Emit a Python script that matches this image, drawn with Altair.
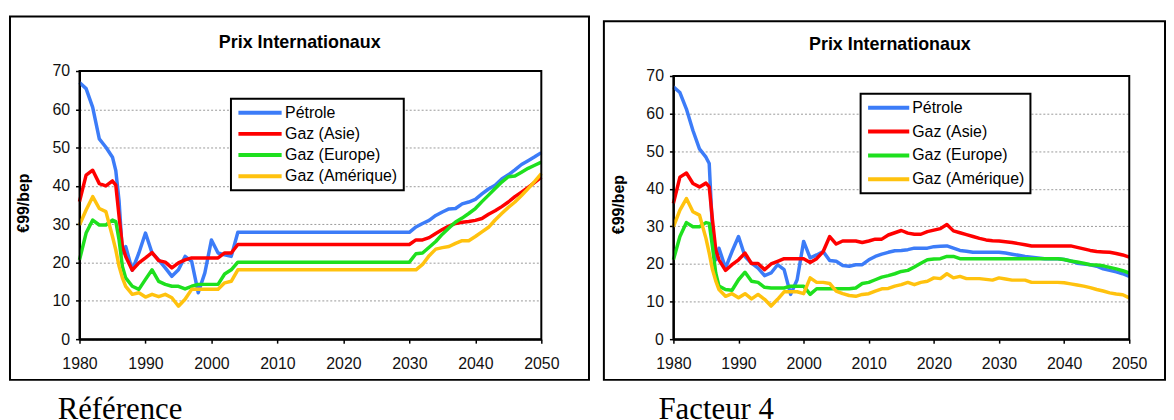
import altair as alt
import pandas as pd

SERIES = ["Pétrole", "Gaz (Asie)", "Gaz (Europe)", "Gaz (Amérique)"]
COLORS = ["#3C7CF8", "#FF0000", "#1EE01E", "#FFC20E"]
TITLE = "Prix Internationaux"
Y_TITLE = "€99/bep"
CAPTIONS = ["Référence", "Facteur 4"]
X_TICKS = [1980, 1990, 2000, 2010, 2020, 2030, 2040, 2050]
Y_TICKS = [0, 10, 20, 30, 40, 50, 60, 70]

# ---- Panel 1 : Référence ----
REF_YEARS = [1980, 1981, 1982, 1983, 1984, 1985, 1985.5, 1986, 1986.5, 1987, 1988, 1989,
             1990, 1991, 1992, 1993, 1994, 1995, 1996, 1997, 1998, 1999, 2000, 2001, 2002,
             2003, 2004,
             2030, 2031, 2032, 2033, 2034, 2035, 2036, 2037, 2038, 2039, 2040, 2041, 2042,
             2043, 2044, 2045, 2046, 2047, 2048, 2049, 2050]
REF_PETROLE = [67.0, 65.4, 60.5, 52.3, 50.1, 47.5, 44.0, 36.0, 22.5, 24.2, 18.0, 22.5, 27.7,
               22.5, 20.7, 18.6, 16.4, 18.1, 21.6, 20.3, 12.1, 17.3, 25.9, 22.5, 22.0, 21.6, 27.9,
               27.9, 29.3, 30.2, 31.0, 32.3, 33.2, 34.0, 34.1, 35.3, 35.8, 36.5, 37.9, 39.2,
               40.2, 41.8, 42.9, 44.2, 45.6, 46.6, 47.6, 48.7]
REF_ASIE = [35.9, 42.8, 44.1, 40.6, 40.0, 41.3, 40.2, 32.0, 24.2, 21.6, 18.0, 19.9, 21.2,
            22.6, 20.5, 20.1, 18.6, 19.9, 20.7, 21.2, 21.2, 21.2, 21.2, 21.2, 22.5, 22.5, 24.7,
            24.7, 25.9, 25.9, 26.5, 27.6, 28.6, 29.5, 30.2, 30.5, 30.7, 31.0, 31.5, 32.6,
            33.5, 34.6, 35.8, 37.2, 38.4, 39.6, 40.9, 42.3]
REF_EUROPE = [20.7, 27.7, 31.1, 29.8, 29.8, 31.1, 30.7, 25.9, 19.0, 16.0, 13.8, 13.0, 15.6,
              18.1, 15.1, 14.3, 13.8, 13.8, 13.1, 13.8, 14.3, 14.3, 14.3, 14.3, 17.0, 18.1, 20.1,
              20.1, 22.3, 22.5, 24.0, 25.5, 27.4, 29.0, 30.6, 31.6, 32.8, 34.1, 35.9, 37.6,
              39.3, 41.0, 42.4, 42.6, 43.6, 44.6, 45.4, 46.2]
REF_AMERIQUE = [29.8, 33.7, 37.2, 34.1, 33.3, 26.8, 23.3, 19.0, 16.0, 13.8, 11.7, 12.1, 11.0,
                11.7, 11.1, 11.7, 10.8, 8.6, 10.4, 13.0, 13.0, 13.0, 13.0, 13.0, 14.7, 15.1, 18.1,
                18.1, 18.1, 19.5, 21.8, 23.5, 23.9, 24.2, 25.0, 25.7, 25.7, 26.8, 28.0, 29.2,
                31.1, 32.8, 34.4, 35.8, 37.5, 39.3, 41.2, 43.2]

# ---- Panel 2 : Facteur 4 ----
F4_YEARS = [1980, 1981, 1982, 1983, 1984, 1985, 1985.5, 1986, 1986.5,
            1987, 1988, 1989, 1990, 1991, 1992, 1993, 1994, 1995, 1996,
            1997, 1998, 1999, 2000, 2001, 2002, 2003, 2004, 2005, 2006,
            2007, 2008, 2009, 2010, 2011, 2012, 2013, 2014, 2015, 2016,
            2017, 2018, 2019, 2020, 2021, 2022, 2023, 2024, 2025, 2026,
            2027, 2028, 2029, 2030, 2031, 2032, 2033, 2034, 2035, 2036,
            2037, 2038, 2039, 2040, 2041, 2042, 2043, 2044, 2045, 2046,
            2047, 2048, 2049, 2050]
F4_PETROLE = [67.1, 65.6, 61.2, 55.5, 50.6, 48.4, 46.7, 29.0, 21.1,
              24.2, 18.9, 23.3, 27.3, 22.0, 20.2, 18.9, 16.9, 17.6, 19.8,
              18.5, 11.9, 15.8, 26.0, 21.6, 22.4, 23.3, 20.9, 20.7, 19.6,
              19.4, 19.8, 19.8, 21.1, 22.0, 22.6, 23.1, 23.5, 23.6, 23.8,
              24.2, 24.2, 24.2, 24.6, 24.7, 24.8, 24.2, 23.6, 23.4, 23.1,
              23.1, 23.1, 23.1, 23.1, 22.9, 22.6, 22.3, 22.0, 21.8, 21.6,
              21.4, 21.4, 21.4, 21.2, 20.8, 20.2, 20.0, 19.8, 19.4, 18.7,
              18.3, 17.9, 17.4, 16.7]
F4_ASIE = [36.1, 43.1, 44.2, 41.4, 40.5, 41.5, 40.5, 31.7, 23.8,
           21.1, 18.3, 19.8, 21.1, 22.9, 20.1, 20.1, 18.5, 20.0, 20.7,
           21.4, 21.4, 21.4, 21.4, 20.4, 21.4, 23.3, 27.3, 25.3, 26.1,
           26.1, 26.1, 25.7, 26.1, 26.6, 26.6, 27.7, 28.3, 28.9, 28.2,
           27.9, 27.9, 28.6, 29.0, 29.4, 30.5, 28.8, 28.3, 27.8, 27.3,
           26.8, 26.4, 26.2, 26.1, 25.9, 25.7, 25.4, 25.1, 24.8, 24.8,
           24.8, 24.8, 24.8, 24.8, 24.8, 24.4, 24.0, 23.6, 23.3, 23.2,
           23.1, 22.8, 22.4, 21.8]
F4_EUROPE = [21.1, 27.3, 31.0, 29.9, 29.9, 31.0, 30.8, 24.6, 17.6,
             14.1, 13.2, 13.0, 15.8, 17.8, 15.4, 15.1, 13.8, 13.6, 13.6,
             13.6, 14.1, 14.1, 14.1, 11.9, 13.4, 13.4, 13.4, 13.4, 13.4,
             13.4, 13.6, 14.8, 15.1, 15.8, 16.5, 16.9, 17.4, 18.0, 18.3,
             19.2, 20.2, 21.1, 21.3, 21.4, 22.0, 22.0, 21.4, 21.4, 21.4,
             21.4, 21.4, 21.4, 21.4, 21.4, 21.4, 21.4, 21.4, 21.4, 21.4,
             21.4, 21.4, 21.4, 21.2, 20.8, 20.5, 20.2, 19.8, 19.7, 19.5,
             19.1, 18.7, 18.2, 17.6]
F4_AMERIQUE = [29.9, 34.3, 37.4, 33.9, 33.0, 26.8, 22.9, 18.5, 15.5,
               13.2, 11.4, 12.1, 11.0, 12.1, 10.7, 11.9, 10.6, 8.8, 10.6,
               12.6, 12.6, 12.6, 12.1, 16.3, 15.1, 15.1, 14.8, 12.8, 12.1,
               11.6, 11.4, 11.9, 12.1, 12.8, 13.4, 13.5, 14.1, 14.5, 15.1,
               14.5, 15.1, 15.4, 16.3, 16.1, 17.4, 16.3, 16.7, 16.1, 16.1,
               16.1, 15.9, 15.7, 16.3, 16.0, 15.7, 15.7, 15.7, 15.1, 15.1,
               15.1, 15.1, 15.1, 15.0, 14.7, 14.4, 14.1, 13.7, 13.2, 12.8,
               12.3, 12.0, 11.8, 11.0]

FONT = "Liberation Sans"
SERIF = "Liberation Serif"


def one_row(text):
    return pd.DataFrame({"t": [text]})


def panel(years, series_vals, w, h, y_top, frame, title_xy, caption, caption_xy,
          legend_xy, legend_pad, legend_rowpad, sym_path, label_offset, ytitle_xy):
    rows = []
    for name, vals in zip(SERIES, series_vals):
        for yr, v in zip(years, vals):
            rows.append({"Année": yr, "Prix": v, "Série": name})
    df = pd.DataFrame(rows)

    xscale = alt.Scale(domain=[1980, 2050], nice=False, zero=False)
    yscale = alt.Scale(domain=[0, 70], nice=False, range=[h, y_top])

    lines = alt.Chart(df).mark_line(strokeWidth=3.5, strokeJoin="round").encode(
        x=alt.X("Année:Q", scale=xscale,
                axis=alt.Axis(values=X_TICKS, format="d", title=None, grid=False,
                              labelPadding=13, labelFlush=False, labelOverlap=False)),
        y=alt.Y("Prix:Q", scale=yscale,
                axis=alt.Axis(values=Y_TICKS, tickCount=8, title=Y_TITLE,
                              titleX=ytitle_xy[0], titleY=ytitle_xy[1], titleAngle=270,
                              titleBaseline="middle", titleAlign="center",
                              grid=True, gridDash=[2, 2], gridColor="#9a9a9a",
                              gridWidth=1, labelPadding=6, labelOverlap=False)),
        color=alt.Color("Série:N",
                        scale=alt.Scale(domain=SERIES, range=COLORS),
                        legend=alt.Legend(title=None, orient="none",
                                          legendX=legend_xy[0], legendY=legend_xy[1],
                                          direction="vertical",
                                          fillColor="white", strokeColor="black",
                                          padding=legend_pad, rowPadding=legend_rowpad,
                                          symbolType=sym_path, symbolSize=144,
                                          symbolStrokeWidth=4, labelOffset=label_offset,
                                          labelFont=FONT, labelFontSize=16,
                                          labelColor="black", labelLimit=400)),
    )

    # plot-area border (decoration around the plot area)
    border = alt.Chart(one_row("plot")).mark_rect(
        fill="transparent", stroke="black", strokeWidth=2
    ).encode(x=alt.value(0), x2=alt.value(w), y=alt.value(y_top), y2=alt.value(h))

    frame_layer = alt.Chart(one_row("frame")).mark_rect(
        fill="transparent", stroke="black", strokeWidth=2
    ).encode(x=alt.value(frame[0]), x2=alt.value(frame[1]),
             y=alt.value(frame[2]), y2=alt.value(frame[3]))

    title_layer = alt.Chart(one_row(TITLE)).mark_text(
        font=FONT, fontSize=18, fontWeight="bold", align="center",
        baseline="alphabetic", color="black"
    ).encode(text="t:N", x=alt.value(title_xy[0]), y=alt.value(title_xy[1]))

    caption_layer = alt.Chart(one_row(caption)).mark_text(
        font=SERIF, fontSize=31, align="left", baseline="alphabetic", color="black"
    ).encode(text="t:N", x=alt.value(caption_xy[0]), y=alt.value(caption_xy[1]))

    return alt.layer(frame_layer, lines, border, title_layer, caption_layer).properties(
        width=w, height=h)


left = panel(REF_YEARS, [REF_PETROLE, REF_ASIE, REF_EUROPE, REF_AMERIQUE],
             465, 270, 0, frame=(-70, 513, -55, 311), title_xy=(221.7, -23.5),
             caption=CAPTIONS[0], caption_xy=(-22, 350),
             legend_xy=(152.5, 28), legend_pad=6, legend_rowpad=5.3,
             sym_path="M-1.08,0H6.17", label_offset=32.5, ytitle_xy=(-56.5, 132.5))

right = panel(F4_YEARS, [F4_PETROLE, F4_ASIE, F4_EUROPE, F4_AMERIQUE],
              459, 270, 5, frame=(-70, 495, -50, 311), title_xy=(218, -21),
              caption=CAPTIONS[1], caption_xy=(-15, 350),
              legend_xy=(188.5, 23), legend_pad=6, legend_rowpad=8,
              sym_path="M-1.08,0H5.83", label_offset=30, ytitle_xy=(-55, 134))

chart = alt.hconcat(left, right, spacing=13).resolve_scale(
    color="independent"
).resolve_legend(
    color="independent"
).properties(
    padding={"left": 1, "top": 6, "right": 0, "bottom": 0},
    background="white",
).configure_view(
    strokeWidth=0
).configure_axis(
    labelFont=FONT, labelFontSize=16, labelColor="#111111",
    tickColor="black", tickSize=4, tickWidth=1.5,
    domainColor="black", domainWidth=2,
    titleFont=FONT, titleFontSize=16, titleFontWeight="bold", titleColor="black",
).configure_legend(
    strokeWidth=2
)

chart.save("out.html", embed_options={"renderer": "svg", "actions": False})
